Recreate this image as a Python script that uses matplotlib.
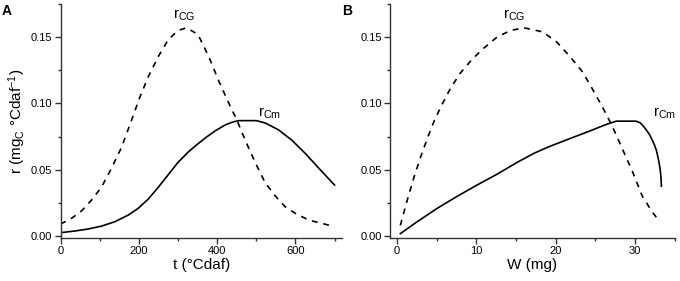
import matplotlib
matplotlib.use('Agg')
import matplotlib.pyplot as plt
from matplotlib.ticker import MultipleLocator, FormatStrFormatter

plt.rcParams['font.family'] = ['Liberation Sans', 'DejaVu Sans']
plt.rcParams['mathtext.default'] = 'regular'

# Panel A: rate vs temperature
t_cg = [0, 28, 54, 79, 105, 130, 156, 181, 203, 224, 249, 275, 300, 322, 351,
        379, 404, 430, 451, 472, 498, 523, 549, 574, 600, 634, 668, 700]
r_cg_t = [0.0090, 0.0133, 0.019, 0.027, 0.037, 0.051, 0.067, 0.087, 0.105, 0.120,
          0.135, 0.148, 0.155, 0.157, 0.152, 0.135, 0.117, 0.100, 0.087, 0.072,
          0.055, 0.040, 0.030, 0.022, 0.017, 0.012, 0.0095, 0.0070]
t_cm = [0, 37, 71, 105, 139, 173, 198, 224, 249, 275, 300, 326, 350, 370, 396,
        421, 440, 455, 500, 523, 557, 591, 626, 660, 700]
r_cm_t = [0.0025, 0.0038, 0.0053, 0.0075, 0.0108, 0.0158, 0.0208, 0.0278, 0.0365,
          0.0462, 0.0555, 0.0633, 0.0693, 0.0740, 0.0795, 0.0838, 0.0860, 0.0870,
          0.0870, 0.0852, 0.0800, 0.0722, 0.0620, 0.0510, 0.0384]

# Panel B: rate vs mass
w_cg = [0.42, 1.34, 2.18, 3.0, 3.85, 4.7, 5.7, 6.8, 8.0, 9.5, 11.0, 12.6, 14.3,
        16.0, 18.3, 20.0, 21.7, 23.4, 24.6, 25.9, 27.1, 28.4, 29.7, 30.9, 32.2, 33.1]
r_cg_w = [0.008, 0.028, 0.045, 0.060, 0.074, 0.087, 0.0995, 0.112, 0.123, 0.1335,
          0.142, 0.150, 0.155, 0.157, 0.154, 0.147, 0.136, 0.1235, 0.111, 0.097,
          0.083, 0.0655, 0.048, 0.030, 0.0176, 0.011]
w_cm = [0.42, 2.6, 5.1, 7.6, 10.1, 12.6, 15.1, 17.3, 19.2, 21.7, 24.2, 26.3, 27.6,
        30.1, 30.6, 31.0, 31.4, 31.8, 32.1, 32.4, 32.65, 32.85, 33.0, 33.15, 33.25, 33.3]
r_cm_w = [0.0018, 0.011, 0.021, 0.030, 0.0385, 0.0466, 0.0554, 0.0625, 0.0675,
          0.0733, 0.0790, 0.0840, 0.0866, 0.0866, 0.0855, 0.0830, 0.0800, 0.0765,
          0.0730, 0.0690, 0.0650, 0.0600, 0.0555, 0.0500, 0.0440, 0.0376]

fig = plt.figure(figsize=(6.8, 2.81), dpi=100)
axA = fig.add_axes([0.089, 0.153, 0.4146, 0.833])
axB = fig.add_axes([0.5735, 0.153, 0.419, 0.833])

spine_col = '#333333'
for ax in (axA, axB):
    for s in ('top', 'right'):
        ax.spines[s].set_visible(False)
    for s in ('left', 'bottom'):
        ax.spines[s].set_color(spine_col)
        ax.spines[s].set_linewidth(1.0)
    ax.set_ylim(-0.0015, 0.175)
    ax.yaxis.set_major_locator(MultipleLocator(0.05))
    ax.yaxis.set_minor_locator(MultipleLocator(0.025))
    ax.yaxis.set_major_formatter(FormatStrFormatter('%.2f'))
    ax.tick_params(which='major', direction='out', length=4, width=1,
                   color=spine_col, labelsize=8, pad=2)
    ax.tick_params(which='minor', direction='out', length=2.5, width=1,
                   color=spine_col)

dash = (0, (3.5, 3.5))

axA.plot(t_cg, r_cg_t, color='black', lw=1.2, linestyle=dash)
axA.plot(t_cm, r_cm_t, color='black', lw=1.2)
axA.set_xlim(0, 720)
axA.xaxis.set_major_locator(MultipleLocator(200))
axA.xaxis.set_minor_locator(MultipleLocator(100))
axA.set_xlabel('t (°Cdaf)', fontsize=11, labelpad=1)
axA.set_ylabel('r (mg$_C$ °Cdaf$^{-1}$)', fontsize=11, labelpad=2)
axA.text(287, 0.164, 'r$_{CG}$', fontsize=11)
axA.text(505, 0.090, 'r$_{Cm}$', fontsize=11)

axB.plot(w_cg, r_cg_w, color='black', lw=1.2, linestyle=dash)
axB.plot(w_cm, r_cm_w, color='black', lw=1.2)
axB.set_xlim(-0.88, 35)
axB.xaxis.set_major_locator(MultipleLocator(10))
axB.xaxis.set_minor_locator(MultipleLocator(5))
axB.set_xlabel('W (mg)', fontsize=11, labelpad=1)
axB.text(13.3, 0.164, 'r$_{CG}$', fontsize=11)
axB.text(32.2, 0.090, 'r$_{Cm}$', fontsize=11)

fig.text(0.003, 0.985, 'A', fontsize=10, fontweight='bold', va='top')
fig.text(0.503, 0.985, 'B', fontsize=10, fontweight='bold', va='top')

fig.savefig('out.png', dpi=100)
